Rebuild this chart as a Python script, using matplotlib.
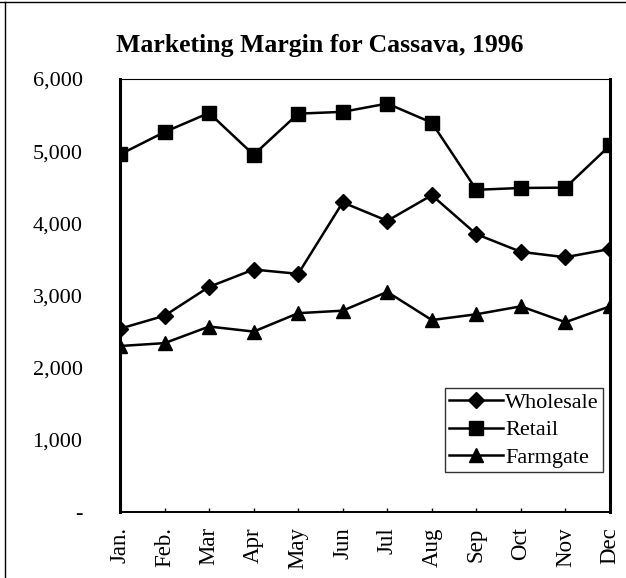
import matplotlib
matplotlib.use('Agg')
import matplotlib.pyplot as plt
from matplotlib.lines import Line2D

# 月份与三条价格序列
months = ['Jan.', 'Feb.', 'Mar', 'Apr', 'May', 'Jun', 'Jul', 'Aug', 'Sep', 'Oct', 'Nov', 'Dec']
wholesale = [2540, 2720, 3120, 3360, 3300, 4290, 4035, 4390, 3850, 3605, 3530, 3645]
retail = [4955, 5265, 5530, 4950, 5520, 5545, 5660, 5395, 4465, 4490, 4495, 5080]
farmgate = [2300, 2340, 2570, 2500, 2755, 2790, 3050, 2660, 2740, 2850, 2630, 2850]
y_ticks = [0, 1000, 2000, 3000, 4000, 5000, 6000]
y_labels = ['-', '1,000', '2,000', '3,000', '4,000', '5,000', '6,000']

plt.rcParams['font.family'] = ['Liberation Serif', 'DejaVu Serif']

fig = plt.figure(figsize=(6.26, 5.78), dpi=100)
ax = fig.add_axes([0.1917, 0.1142, 0.7827, 0.7491])

x = list(range(len(months)))
ax.plot(x, wholesale, color='black', lw=1.8, marker='D', ms=8.5, label='Wholesale')
ax.plot(x, retail, color='black', lw=1.8, marker='s', ms=9.5, label='Retail')
ax.plot(x, farmgate, color='black', lw=1.8, marker='^', ms=10.5, label='Farmgate')

ax.set_xlim(0, len(months) - 1)
ax.set_ylim(0, 6000)
ax.set_xticks(x)
ax.set_xticklabels(months, rotation=90, fontsize=16.5)
ax.set_yticks(y_ticks)
ax.set_yticklabels(y_labels, fontsize=16)
ax.tick_params(axis='y', length=0, pad=27)
ax.tick_params(axis='x', direction='in', length=3, width=1, pad=11)

ax.spines['left'].set_linewidth(2.2)
ax.spines['right'].set_linewidth(2.2)
ax.spines['top'].set_linewidth(0.8)
ax.spines['bottom'].set_linewidth(1.4)

leg = ax.legend(loc='upper right', bbox_to_anchor=(0.986, 0.286), borderaxespad=0,
                fontsize=16, frameon=True, fancybox=False, edgecolor='black',
                handlelength=2.4, handletextpad=0.1, labelspacing=0.3,
                borderpad=0.2)
leg.get_frame().set_linewidth(1.0)

fig.text(0.511, 0.922, 'Marketing Margin for Cassava, 1996', ha='center', va='center',
         fontsize=18.5, fontweight='bold')

# 扫描件的外框
fig.add_artist(Line2D([0.008, 0.008], [0, 0.997], color='black', lw=1.0, transform=fig.transFigure))
fig.add_artist(Line2D([0, 1], [0.997, 0.997], color='black', lw=1.0, transform=fig.transFigure))

fig.savefig('out.png', dpi=100)
